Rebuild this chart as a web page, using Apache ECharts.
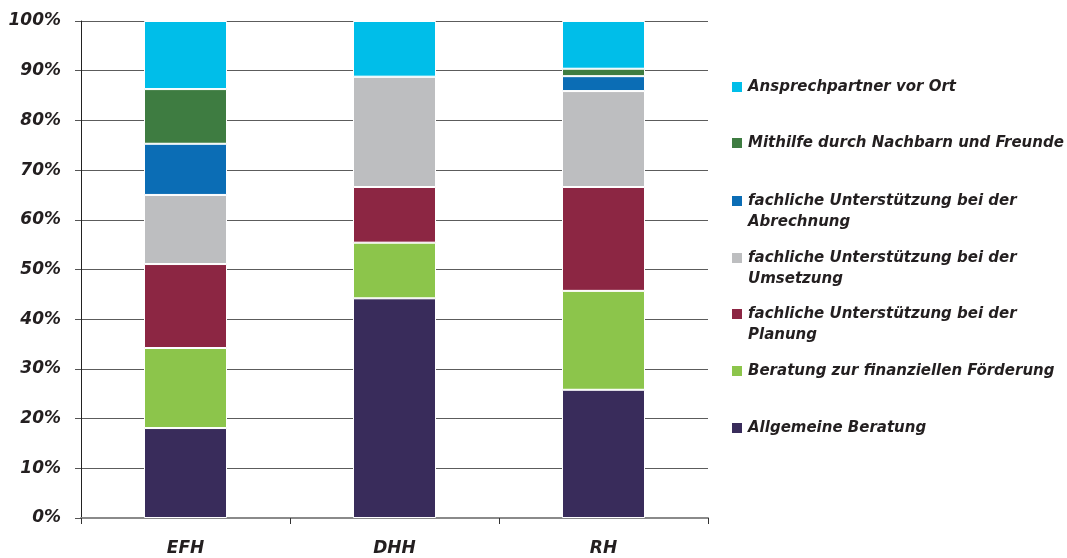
<!DOCTYPE html>
<html>
<head>
<meta charset="utf-8">
<script src="https://cdn.jsdelivr.net/npm/echarts@6/dist/echarts.min.js"></script>
<style>
  html, body { margin: 0; padding: 0; background: #fff; }
  #main { width: 1067px; height: 558px; }
</style>
</head>
<body>
<div id="main"></div>
<script>
var categories = ['EFH', 'DHH', 'RH'];

var seriesNames = [
    'Allgemeine Beratung',
    'Beratung zur finanziellen Förderung',
    'fachliche Unterstützung bei der Planung',
    'fachliche Unterstützung bei der Umsetzung',
    'fachliche Unterstützung bei der Abrechnung',
    'Mithilfe durch Nachbarn und Freunde',
    'Ansprechpartner vor Ort'
];

// Anteile in % je Kategorie (EFH, DHH, RH)
var allgemeine = [18.1, 44.2, 25.8];
var finanzielle = [16.1, 11.2, 19.9];
var planung = [16.9, 11.2, 20.9];
var umsetzung = [13.9, 22.2, 19.3];
var abrechnung = [10.3, 0, 3.0];
var nachbarn = [11.0, 0, 1.5];
var ansprechpartner = [13.7, 11.2, 9.6];

var yTicks = [0, 10, 20, 30, 40, 50, 60, 70, 80, 90, 100];

var values = [allgemeine, finanzielle, planung, umsetzung, abrechnung, nachbarn, ansprechpartner];
var colors = ['#392c5b', '#8cc54b', '#8c2643', '#bdbec0', '#0b6db5', '#3e7c41', '#00bee9'];

var textColor = '#231f20';
var font = 'DejaVu Sans';

// Legende: Zeilen wie im Original umbrechen
var legendLabels = {
    'fachliche Unterstützung bei der Planung': 'fachliche Unterstützung bei der\nPlanung',
    'fachliche Unterstützung bei der Umsetzung': 'fachliche Unterstützung bei der\nUmsetzung',
    'fachliche Unterstützung bei der Abrechnung': 'fachliche Unterstützung bei der\nAbrechnung'
};
// Mittelpunkt des Symbols je Eintrag (von oben nach unten)
var legendOrder = [6, 5, 4, 3, 2, 1, 0];
var legendCenters = [87, 143, 201, 258, 314, 371, 428];

var series = [];
for (var i = 0; i < seriesNames.length; i++) {
    series.push({
        name: seriesNames[i],
        type: 'bar',
        stack: 'total',
        barWidth: 83,
        data: values[i],
        itemStyle: { color: colors[i], borderColor: '#fff', borderWidth: 1 }
    });
}

var legends = [];
for (var k = 0; k < legendOrder.length; k++) {
    var name = seriesNames[legendOrder[k]];
    var multi = legendLabels[name] != null;
    // bei zweizeiligen Einträgen Symbol auf die erste Zeile setzen
    legends.push({
        orient: 'vertical',
        left: 730,
        top: legendCenters[k] - 10.5,
        padding: 0,
        itemWidth: 12,
        itemHeight: multi ? 33 : 12,
        itemGap: 0,
        selectedMode: false,
        icon: multi ? 'path://M0,0H12V12H0Z M0,33' : 'path://M0,0H12V12H0Z',
        data: [name],
        formatter: function(n) {
            return legendLabels[n] != null ? legendLabels[n] : n;
        },
        textStyle: {
            fontFamily: font,
            fontStyle: 'italic',
            fontWeight: 'bold',
            fontSize: 15,
            lineHeight: 21,
            color: textColor
        }
    });
}

var chart = echarts.init(document.getElementById('main'));
chart.setOption({
    animation: false,
    backgroundColor: '#fff',
    color: colors,
    grid: { left: 81, right: 359, top: 21, bottom: 40, containLabel: false },
    legend: legends,
    xAxis: {
        type: 'category',
        data: categories,
        axisLine: { lineStyle: { color: '#8a8a8a', width: 2 } },
        axisTick: { show: true, length: 6, lineStyle: { color: '#333' } },
        axisLabel: {
            margin: 22,
            fontFamily: font,
            fontStyle: 'italic',
            fontWeight: 'bold',
            fontSize: 17,
            color: textColor
        }
    },
    yAxis: {
        type: 'value',
        min: yTicks[0],
        max: yTicks[yTicks.length - 1],
        interval: 10,
        axisLine: { show: true, lineStyle: { color: '#222', width: 1 } },
        axisTick: { show: true, length: 6, lineStyle: { color: '#555' } },
        splitLine: { lineStyle: { color: '#5c5c5c', width: 1 } },
        axisLabel: {
            margin: 20,
            formatter: '{value}%',
            fontFamily: font,
            fontStyle: 'italic',
            fontWeight: 'bold',
            fontSize: 17,
            color: textColor
        }
    },
    series: series
});
</script>
</body>
</html>
